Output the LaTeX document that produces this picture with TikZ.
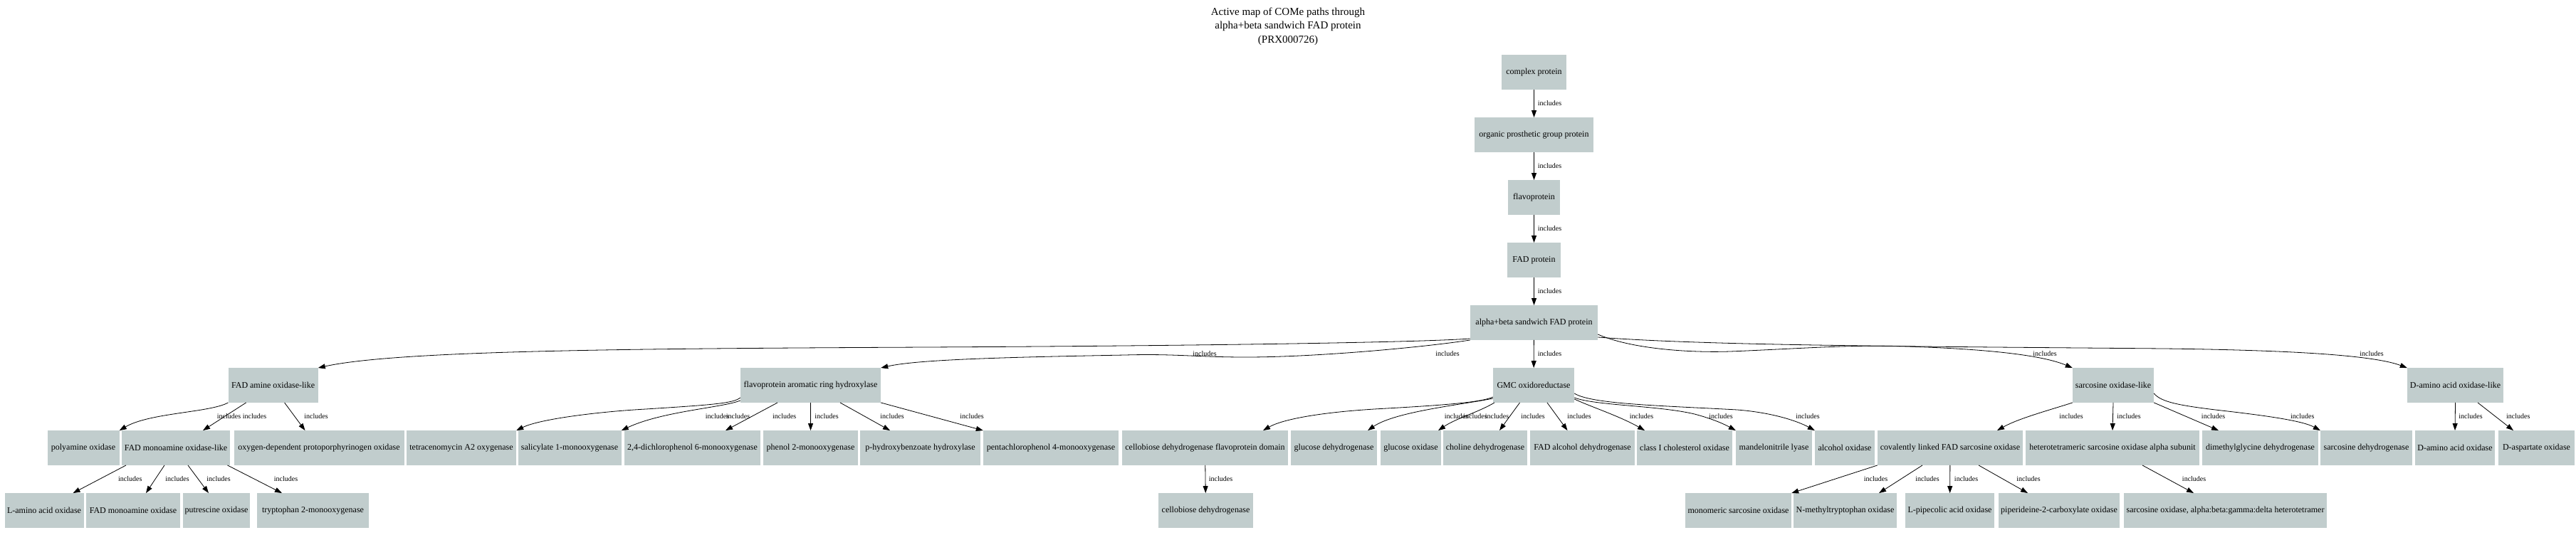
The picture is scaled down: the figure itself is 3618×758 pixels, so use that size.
\documentclass[tikz,border=0pt]{standalone}
\usepackage{fontspec}
\setmainfont{Liberation Serif}
\usepackage{tikz}
\usetikzlibrary{arrows.meta}
\usepackage{xcolor}
\definecolor{node gray}{HTML}{C1CDCD}

\begin{document}
\begin{tikzpicture}[x=1pt,y=-1pt,
		pbox/.style={fill=node gray, minimum height=48.5pt, inner xsep=1.5pt, inner ysep=0pt, font=\fontsize{12}{14}\selectfont},
		lbl/.style={inner sep=0pt, font=\fontsize{10}{12}\selectfont},
		link/.style={line width=0.8pt, -{Triangle[length=10pt,width=7pt]}}]
			\useasboundingbox (0,0) rectangle (3618,758);
			\node[align=center, anchor=north, inner sep=0pt, font=\fontsize{15}{19.5}\selectfont] (title) at (1809,10.5){Active map of COMe paths through\\alpha+beta sandwich FAD protein\\(PRX000726)};
			\node[pbox, minimum width=91pt] (cp) at (2154.5,101.5){complex protein};
			\node[pbox, minimum width=167pt] (opgp) at (2154.5,189.5){organic prosthetic group protein};
			\node[pbox, minimum width=73pt] (fp) at (2154.5,277.5){flavoprotein};
			\node[pbox, minimum width=75pt] (fadp) at (2154.5,365.5){FAD protein};
			\node[pbox, minimum width=179pt] (ab) at (2154.5,453.5){alpha+beta sandwich FAD protein};
			\node[pbox, minimum width=126pt] (famo) at (383.6,541.5){FAD amine oxidase-like};
			\node[pbox, minimum width=197pt] (far) at (1138.5,541.5){flavoprotein aromatic ring hydroxylase};
			\node[pbox, minimum width=114pt] (gmc) at (2154,541.5){GMC oxidoreductase};
			\node[pbox, minimum width=114pt] (sol) at (2968,541.5){sarcosine oxidase-like};
			\node[pbox, minimum width=135pt] (daol) at (3448.5,541.5){D-amino acid oxidase-like};
			\node[pbox, minimum width=101pt] (pao) at (117,629.5){polyamine oxidase};
			\node[pbox, minimum width=152pt] (fmol) at (247,629.5){FAD monoamine oxidase-like};
			\node[pbox, minimum width=239pt] (odpo) at (448,629.5){oxygen-dependent protoporphyrinogen oxidase};
			\node[pbox, minimum width=154pt] (tao) at (648,629.5){tetracenomycin A2 oxygenase};
			\node[pbox, minimum width=145pt] (smo) at (800,629.5){salicylate 1-monooxygenase};
			\node[pbox, minimum width=191pt] (dcp) at (972.5,629.5){2,4-dichlorophenol 6-monooxygenase};
			\node[pbox, minimum width=133pt] (pmo) at (1138.5,629.5){phenol 2-monooxygenase};
			\node[pbox, minimum width=169pt] (phb) at (1292.5,629.5){p-hydroxybenzoate hydroxylase};
			\node[pbox, minimum width=190pt] (pcp) at (1476,629.5){pentachlorophenol 4-monooxygenase};
			\node[pbox, minimum width=233pt] (cdfd) at (1692.5,629.5){cellobiose dehydrogenase flavoprotein domain};
			\node[pbox, minimum width=121pt] (gdh) at (1873.5,629.5){glucose dehydrogenase};
			\node[pbox, minimum width=85pt] (gox) at (1981.5,629.5){glucose oxidase};
			\node[pbox, minimum width=118pt] (chd) at (2086,629.5){choline dehydrogenase};
			\node[pbox, minimum width=147pt] (fadh) at (2222.5,629.5){FAD alcohol dehydrogenase};
			\node[pbox, minimum width=134pt] (cho) at (2366,629.5){class I cholesterol oxidase};
			\node[pbox, minimum width=107pt] (mnl) at (2491.5,629.5){mandelonitrile lyase};
			\node[pbox, minimum width=84pt] (aox) at (2591,629.5){alcohol oxidase};
			\node[pbox, minimum width=204pt] (clso) at (2739,629.5){covalently linked FAD sarcosine oxidase};
			\node[pbox, minimum width=244pt] (hsoa) at (2967,629.5){heterotetrameric sarcosine oxidase alpha subunit};
			\node[pbox, minimum width=163pt] (dmgd) at (3174.5,629.5){dimethylglycine dehydrogenase};
			\node[pbox, minimum width=129pt] (sdh) at (3323.5,629.5){sarcosine dehydrogenase};
			\node[pbox, minimum width=112pt] (dao) at (3448,629.5){D-amino acid oxidase};
			\node[pbox, minimum width=107pt] (dasp) at (3562.5,629.5){D-aspartate oxidase};
			\node[pbox, minimum width=111pt] (lao) at (62,717.5){L-amino acid oxidase};
			\node[pbox, minimum width=132pt] (fmo) at (187,717.5){FAD monoamine oxidase};
			\node[pbox, minimum width=94pt] (puo) at (304,717.5){putrescine oxidase};
			\node[pbox, minimum width=157pt] (tmo) at (439.5,717.5){tryptophan 2-monooxygenase};
			\node[pbox, minimum width=133pt] (cdh) at (1693.5,717.5){cellobiose dehydrogenase};
			\node[pbox, minimum width=149pt] (mso) at (2441.5,717.5){monomeric sarcosine oxidase};
			\node[pbox, minimum width=145pt] (nmt) at (2591.5,717.5){N-methyltryptophan oxidase};
			\node[pbox, minimum width=125pt] (lpo) at (2738.5,717.5){L-pipecolic acid oxidase};
			\node[pbox, minimum width=170pt] (p2c) at (2892,717.5){piperideine-2-carboxylate oxidase};
			\node[pbox, minimum width=285pt] (soh) at (3125.5,717.5){sarcosine oxidase, alpha:beta:gamma:delta heterotetramer};
			\draw[link] (cp) -- (opgp) node[lbl] at (2176.5,145.5){includes};
			\draw[link] (opgp) -- (fp) node[lbl] at (2176.5,233.5){includes};
			\draw[link] (fp) -- (fadp) node[lbl] at (2176.5,321.5){includes};
			\draw[link] (fadp) -- (ab) node[lbl] at (2176.5,409.5){includes};
			\draw[link] ([yshift=2pt]ab.south west) .. controls (2000,481) and (1700,486) .. (1300,488) .. controls (900,490) and (560,492) .. (famo.north east) node[lbl] at (2033,497.5){includes};
			\draw[link] (ab.south west) .. controls (2000,488) and (1850,502) .. (1750,502) .. controls (1680,502) and (1650,497) .. (1580,499) .. controls (1420,502) and (1290,505) .. (far.north east) node[lbl] at (1692,497.5){includes};
			\draw[link] (ab) -- (gmc) node[lbl] at (2176.5,497.5){includes};
			\draw[link] ([yshift=8pt]ab.south east) .. controls (2290,490) and (2370,496) .. (2430,494) .. controls (2530,490) and (2600,484) .. (2680,487) .. controls (2800,491) and (2870,500) .. (sol.north west) node[lbl] at (2872,497.5){includes};
			\draw[link] ([yshift=4pt]ab.south east) .. controls (2400,486) and (2700,487) .. (3040,490) .. controls (3200,492) and (3330,498) .. (daol.north west) node[lbl] at (3331,497.5){includes};
			\draw[link] (famo.south west) .. controls (295,580) and (210,580) .. (pao.north east) node[lbl] at (321.5,585.5){includes};
			\draw[link] ([xshift=-38pt]famo.south) -- ([xshift=38pt]fmol.north) node[lbl] at (357.5,585.5){includes};
			\draw[link] ([xshift=16pt]famo.south) -- ([xshift=-19.5pt]odpo.north) node[lbl] at (444,585.5){includes};
			\draw[link] ([yshift=7pt]far.south west) .. controls (1030,567) and (1000,569) .. (907,575) .. controls (850,578) and (760,588) .. (tao.north east) node[lbl] at (1007.5,585.5){includes};
			\draw[link] ([yshift=3pt]far.south west) .. controls (1015,573) and (930,578) .. (smo.north east) node[lbl] at (1036.5,585.5){includes};
			\draw[link] ([xshift=-46.5pt]far.south) -- ([xshift=46.5pt]dcp.north) node[lbl] at (1101.7,585.5){includes};
			\draw[link] (far) -- (pmo) node[lbl] at (1161,585.5){includes};
			\draw[link] ([xshift=41.5pt]far.south) -- ([xshift=-42.5pt]phb.north) node[lbl] at (1253,585.5){includes};
			\draw[link] (far.south east) -- (pcp.north west) node[lbl] at (1365,585.5){includes};
			\draw[link] ([yshift=8pt]gmc.south west) .. controls (2080,566) and (2020,570) .. (1930,575) .. controls (1850,580) and (1800,590) .. ([xshift=81.5pt]cdfd.north) node[lbl] at (2045.5,585.5){includes};
			\draw[link] ([yshift=6pt]gmc.south west) .. controls (2060,568) and (1960,578) .. ([xshift=47.5pt]gdh.north) node[lbl] at (2072,585.5){includes};
			\draw[link] ([xshift=-55pt]gmc.south) .. controls (2075,580) and (2045,588) .. ([xshift=38.5pt]gox.north) node[lbl] at (2102.5,585.5){includes};
			\draw[link] ([xshift=-19.5pt]gmc.south) -- ([xshift=20pt]chd.north) node[lbl] at (2153,585.5){includes};
			\draw[link] ([xshift=19pt]gmc.south) -- ([xshift=-21pt]fadh.north) node[lbl] at (2218,585.5){includes};
			\draw[link] ([yshift=5pt]gmc.south east) .. controls (2235,572) and (2275,585) .. ([xshift=-56pt]cho.north) node[lbl] at (2305.5,585.5){includes};
			\draw[link] ([yshift=7pt]gmc.south east) .. controls (2240,570) and (2330,570) .. (2380,582) .. controls (2410,590) and (2425,598) .. (mnl.north west) node[lbl] at (2417,585.5){includes};
			\draw[link] ([yshift=13pt]gmc.south east) .. controls (2235,568) and (2330,570) .. (2440,576) .. controls (2490,580) and (2525,592) .. (aox.north west) node[lbl] at (2539,585.5){includes};
			\draw[link] (cdfd) -- (cdh) node[lbl] at (1714.5,673.5){includes};
			\draw[link] (sol.south west) .. controls (2880,576) and (2835,588) .. ([xshift=66pt]clso.north) node[lbl] at (2909,585.5){includes};
			\draw[link] (sol.south) -- (hsoa.north) node[lbl] at (2990,585.5){includes};
			\draw[link] (sol.south east) -- ([xshift=-58.5pt]dmgd.north) node[lbl] at (3108.6,585.5){includes};
			\draw[link] ([yshift=13pt]sol.south east) .. controls (3035,565) and (3060,570) .. (3120,577) .. controls (3190,585) and (3235,592) .. (sdh.north west) node[lbl] at (3233.7,585.5){includes};
			\draw[link] (daol.south) -- (dao.north) node[lbl] at (3470,585.5){includes};
			\draw[link] ([xshift=31.5pt]daol.south) -- ([xshift=-32.5pt]dasp.north) node[lbl] at (3536.8,585.5){includes};
			\draw[link] ([xshift=-70pt]fmol.south) -- ([xshift=40.5pt]lao.north) node[lbl] at (182.8,673.5){includes};
			\draw[link] ([xshift=-16pt]fmol.south) -- ([xshift=18pt]fmo.north) node[lbl] at (249,673.5){includes};
			\draw[link] ([xshift=17pt]fmol.south) -- ([xshift=-11pt]puo.north) node[lbl] at (307,673.5){includes};
			\draw[link] ([xshift=72.5pt]fmol.south) -- ([xshift=-43.5pt]tmo.north) node[lbl] at (401.6,673.5){includes};
			\draw[link] (clso.south west) -- (mso.north east) node[lbl] at (2634.5,673.5){includes};
			\draw[link] ([xshift=-39pt]clso.south) -- ([xshift=47.5pt]nmt.north) node[lbl] at (2707,673.5){includes};
			\draw[link] (clso) -- (lpo) node[lbl] at (2761.6,673.5){includes};
			\draw[link] ([xshift=40pt]clso.south) -- ([xshift=-44pt]p2c.north) node[lbl] at (2849,673.5){includes};
			\draw[link] ([xshift=42pt]hsoa.south) -- ([xshift=-44.5pt]soh.north) node[lbl] at (3081.6,673.5){includes};
		\end{tikzpicture}
\end{document}
